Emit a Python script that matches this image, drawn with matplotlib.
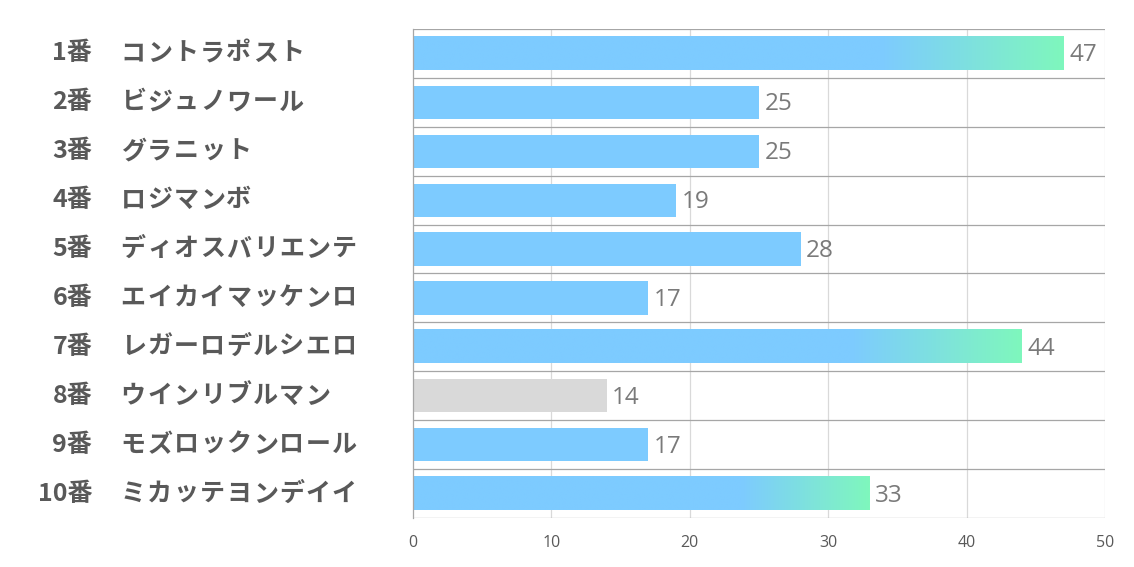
import matplotlib.pyplot as plt
import numpy as np
from matplotlib.colors import LinearSegmentedColormap

plt.rcParams['font.family'] = ['Noto Sans CJK JP', 'DejaVu Sans']

numbers = ['1番', '2番', '3番', '4番', '5番', '6番', '7番', '8番', '9番', '10番']
names = ['コントラポスト', 'ビジュノワール', 'グラニット', 'ロジマンボ', 'ディオスバリエンテ',
         'エイカイマッケンロ', 'レガーロデルシエロ', 'ウインリブルマン', 'モズロックンロール', 'ミカッテヨンデイイ']
values = [47, 25, 25, 19, 28, 17, 44, 14, 17, 33]
gray_rows = [7]          # index of the grey bar
gradient_min = 30        # bars above this get the blue->green fade

blue = '#7dcbff'
green = '#7ff7bd'
grey = '#d9d9d9'
cmap = LinearSegmentedColormap.from_list('fade', [(0, blue), (0.72, blue), (1, green)])

W, H = 1134, 567
fig = plt.figure(figsize=(W / 100, H / 100), dpi=100)
ax = fig.add_axes([413 / W, 1 - 518 / H, (1105 - 413) / W, (518 - 29) / H])

n = len(values)
h = 0.68
for i, v in enumerate(values):
    if i in gray_rows:
        ax.barh(i, v, height=h, color=grey, zorder=2)
    elif v > gradient_min:
        grad = np.linspace(0, 1, 256).reshape(1, -1)
        ax.imshow(grad, cmap=cmap, aspect='auto', extent=[0, v, i + h / 2, i - h / 2],
                  zorder=2, interpolation='bilinear')
    else:
        ax.barh(i, v, height=h, color=blue, zorder=2)
    ax.text(v + 0.4, i + 0.04, str(v), va='center', ha='left', fontsize=17.5, color='#7a7a7a',
            family=['Open Sans', 'DejaVu Sans'])

ax.set_xlim(0, 50)
ax.set_ylim(n - 0.5, -0.5)
ax.set_xticks([0, 10, 20, 30, 40, 50])
ax.set_yticks([])
for t in ax.get_xticklabels():
    t.set_family(['Open Sans', 'DejaVu Sans'])
ax.tick_params(axis='x', length=0, labelsize=11.5, labelcolor='#595959', pad=12)
for x in [10, 20, 30, 40, 50]:
    ax.axvline(x, color='#d9d9d9', lw=0.9, zorder=1)
for y in np.arange(n + 1) - 0.5:
    ax.axhline(y, color='#a6a6a6', lw=0.9, zorder=1)
for s in ['top', 'right', 'bottom']:
    ax.spines[s].set_visible(False)
ax.spines['left'].set_color('#a6a6a6')
ax.spines['left'].set_linewidth(0.9)

# row labels: number right-aligned, name drawn char by char (full-width spacing)
advance = 26.4
for i in range(n):
    yf = 1 - (29 + (i + 0.5) * (518 - 29) / n) / H
    fig.text(92 / W, yf, numbers[i], ha='right', va='center', fontsize=18,
             fontweight='bold', color='#595959')
    for k, ch in enumerate(names[i]):
        fig.text((120 + (k + 0.5) * advance) / W, yf, ch, ha='center', va='center',
                 fontsize=18, fontweight='bold', color='#595959')

fig.savefig('out.png', dpi=100)
